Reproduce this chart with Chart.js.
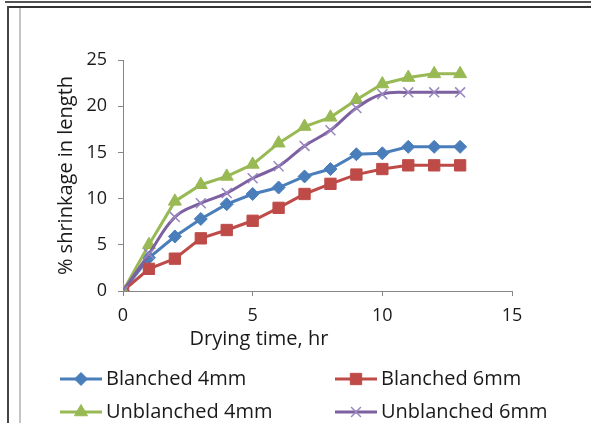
<!DOCTYPE html>
<html>
<head>
<meta charset="utf-8">
<script src="https://cdn.jsdelivr.net/npm/chart.js@4/dist/chart.umd.min.js"></script>
<style>
  body { margin: 0; background: #fff; }
  #wrap { position: relative; width: 591px; height: 423px; overflow: hidden; }
  #wrap canvas { position: absolute; left: 0; top: 0; }
  .ln { position: absolute; }
</style>
</head>
<body>
<div id="wrap">
  <canvas id="shrinkChart" width="591" height="423"></canvas>
  <div class="ln" style="left:5px; top:1px; width:586px; height:2px; background:#555;"></div>
  <div class="ln" style="left:7px; top:6px; width:584px; height:2px; background:#333;"></div>
  <div class="ln" style="left:7px; top:6px; width:2px; height:417px; background:#444;"></div>
  <div class="ln" style="left:19px; top:8px; width:2px; height:415px; background:#c4c4c4;"></div>
</div>
<script>
const hours = [0, 1, 2, 3, 4, 5, 6, 7, 8, 9, 10, 11, 12, 13];
const blanched4 = [0, 3.6, 5.9, 7.8, 9.4, 10.5, 11.2, 12.4, 13.2, 14.8, 14.9, 15.6, 15.6, 15.6];
const blanched6 = [0, 2.4, 3.5, 5.7, 6.6, 7.6, 9.0, 10.5, 11.6, 12.6, 13.2, 13.6, 13.6, 13.6];
const unblanched4 = [0, 5.0, 9.7, 11.5, 12.4, 13.7, 16.0, 17.8, 18.8, 20.7, 22.4, 23.1, 23.5, 23.5];
const unblanched6 = [0, 4.0, 8.0, 9.5, 10.6, 12.2, 13.5, 15.7, 17.4, 19.8, 21.3, 21.5, 21.5, 21.5];
const seriesNames = ['Blanched 4mm', 'Blanched 6mm', 'Unblanched 4mm', 'Unblanched 6mm'];
const xTitle = 'Drying time, hr';
const yTitle = '% shrinkage in length';

const FONT = "'Open Sans', 'Liberation Sans', sans-serif";
const pts = vals => vals.map((v, i) => ({ x: hours[i], y: v }));

// legend laid out like the Excel one: two columns, two rows
const legendSlots = [
    { x: 60, y: 379 }, { x: 335, y: 379 },
    { x: 60, y: 412 }, { x: 335, y: 412 }
];

const excelLegend = {
    id: 'excelLegend',
    afterDraw(chart) {
        const ctx = chart.ctx;
        ctx.save();
        chart.data.datasets.forEach((ds, i) => {
            const s = legendSlots[i];
            ctx.strokeStyle = ds.borderColor;
            ctx.lineWidth = 3;
            ctx.beginPath();
            ctx.moveTo(s.x, s.y);
            ctx.lineTo(s.x + 42, s.y);
            ctx.stroke();
            ctx.fillStyle = ds.pointBackgroundColor;
            ctx.strokeStyle = ds.pointBorderColor;
            ctx.lineWidth = ds.pointBorderWidth;
            Chart.helpers.drawPoint(ctx, {
                pointStyle: ds.pointStyle, radius: ds.pointRadius,
                rotation: 0, borderWidth: ds.pointBorderWidth
            }, s.x + 21, s.y);
            ctx.fillStyle = '#1a1a1a';
            ctx.font = '20px ' + FONT;
            ctx.textAlign = 'left';
            ctx.textBaseline = 'middle';
            ctx.fillText(ds.label, s.x + 46, s.y);
        });
        // x axis title sits left of centre in the original
        ctx.font = '20px ' + FONT;
        ctx.textAlign = 'center';
        ctx.textBaseline = 'middle';
        ctx.fillStyle = '#1a1a1a';
        ctx.fillText(xTitle, 259, 339);
        ctx.restore();
    }
};

const ctx = document.getElementById('shrinkChart');
new Chart(ctx, {
    type: 'line',
    data: {
        datasets: [
            {
                label: seriesNames[0], data: pts(blanched4), order: 4,
                borderColor: '#4a7ebb', backgroundColor: '#4a7ebb', borderWidth: 3,
                pointStyle: 'rectRot', pointRadius: 6.5, pointBackgroundColor: '#4a7ebb',
                pointBorderColor: '#4a7ebb', pointBorderWidth: 1, tension: 0
            },
            {
                label: seriesNames[1], data: pts(blanched6), order: 3,
                borderColor: '#be4b48', backgroundColor: '#be4b48', borderWidth: 3,
                pointStyle: 'rect', pointRadius: 8, pointBackgroundColor: '#be4b48',
                pointBorderColor: '#be4b48', pointBorderWidth: 1, tension: 0
            },
            {
                label: seriesNames[2], data: pts(unblanched4), order: 2,
                borderColor: '#98b954', backgroundColor: '#98b954', borderWidth: 3,
                pointStyle: 'triangle', pointRadius: 7.5, pointBackgroundColor: '#98b954',
                pointBorderColor: '#98b954', pointBorderWidth: 1, tension: 0
            },
            {
                label: seriesNames[3], data: pts(unblanched6), order: 1,
                borderColor: '#7d60a0', backgroundColor: '#7d60a0', borderWidth: 3,
                pointStyle: 'crossRot', pointRadius: 7, pointBackgroundColor: '#9a86bf',
                pointBorderColor: '#9a86bf', pointBorderWidth: 1.5, tension: 0.4
            }
        ]
    },
    options: {
        responsive: false,
        animation: false,
        layout: { padding: { left: 20, top: 60, right: 79, bottom: 92 } },
        plugins: { legend: { display: false }, tooltip: { enabled: false } },
        scales: {
            x: {
                type: 'linear', min: 0, max: 15,
                afterFit: s => { s.height = 40; },
                ticks: { stepSize: 5, color: '#1a1a1a', font: { family: FONT, size: 18 }, padding: 9, maxRotation: 0 },
                grid: { display: true, drawOnChartArea: false, drawTicks: true, tickLength: 5, color: '#868686' },
                border: { display: true, color: '#868686', width: 1 }
            },
            y: {
                min: 0, max: 25,
                afterFit: s => { s.width = 103; },
                ticks: { stepSize: 5, color: '#1a1a1a', font: { family: FONT, size: 18 }, padding: 11 },
                grid: { display: true, drawOnChartArea: false, drawTicks: true, tickLength: 5, color: '#868686' },
                border: { display: true, color: '#868686', width: 1 },
                title: {
                    display: true, text: yTitle, color: '#1a1a1a',
                    font: { family: FONT, size: 20 }, padding: { top: 34, bottom: 0 }
                }
            }
        }
    },
    plugins: [excelLegend]
});
</script>
</body>
</html>
